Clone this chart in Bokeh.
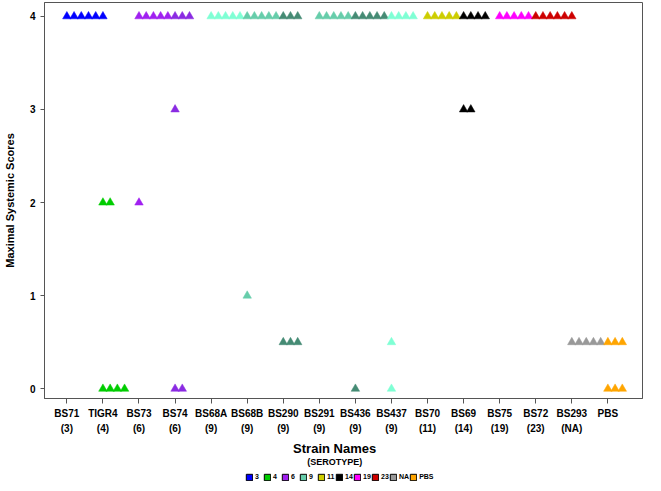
from bokeh.plotting import figure
from bokeh.layouts import column
from bokeh.models import FixedTicker, Range1d, Legend, LegendItem, ColumnDataSource, Label
from bokeh.embed import file_html
from bokeh.resources import INLINE

# ---- data ----
strains = ["BS71", "TIGR4", "BS73", "BS74", "BS68A", "BS68B", "BS290", "BS291",
           "BS436", "BS437", "BS70", "BS69", "BS75", "BS72", "BS293", "PBS"]
strain_serotypes = ["(3)", "(4)", "(6)", "(6)", "(9)", "(9)", "(9)", "(9)",
                    "(9)", "(9)", "(11)", "(14)", "(19)", "(23)", "(NA)", ""]
strain_colors = ["#0000FF", "#00CD00", "#A020F0", "#8A2BE2", "#7FFFD4", "#66CDAA",
                 "#458B74", "#66CDAA", "#458B74", "#7FFFD4", "#CDCD00", "#000000",
                 "#FF00FF", "#CD0000", "#999999", "#FFA500"]
scores = [
    [4, 4, 4, 4, 4, 4],
    [2, 2, 0, 0, 0, 0],
    [4, 4, 4, 4, 4, 2],
    [4, 4, 4, 3, 0, 0],
    [4, 4, 4, 4, 4],
    [4, 4, 4, 4, 4, 1],
    [4, 4, 4, 0.5, 0.5, 0.5],
    [4, 4, 4, 4, 4],
    [4, 4, 4, 4, 4, 0],
    [4, 4, 4, 4, 0.5, 0],
    [4, 4, 4, 4, 4],
    [4, 4, 4, 4, 3, 3],
    [4, 4, 4, 4, 4],
    [4, 4, 4, 4, 4, 4],
    [0.5, 0.5, 0.5, 0.5, 0.5],
    [0.5, 0.5, 0.5, 0, 0, 0],
]
serotypes = ["3", "4", "6", "9", "11", "14", "19", "23", "NA", "PBS"]
serotype_colors = ["#0000FF", "#00CD00", "#A020F0", "#66CDAA", "#CDCD00", "#000000",
                   "#FF00FF", "#CD0000", "#999999", "#FFA500"]
y_ticks = [0, 1, 2, 3, 4]
x_title = "Strain Names"
x_subtitle = "(SEROTYPE)"
y_title = "Maximal Systemic Scores"

# ---- point positions: mice with same score are placed side by side ----
dodge = 0.2
xs, ys, cs = [], [], []
for i, (vals, col) in enumerate(zip(scores, strain_colors)):
    counts = {}
    for v in vals:
        k = counts.get(v, 0)
        counts[v] = k + 1
        xs.append(i + k * dodge)
        ys.append(v)
        cs.append(col)
src = ColumnDataSource(dict(x=xs, y=ys, c=cs))

FONT = "Liberation Sans"
W = 645
BL, BR = 34, 3
FW = W - BL - BR  # frame width in pixels

p = figure(width=W, height=438, output_backend="svg", toolbar_location=None,
           x_range=Range1d(-0.62, 15.96), y_range=Range1d(-0.104, 4.149),
           min_border_left=BL, min_border_top=2, min_border_right=BR, min_border_bottom=40)
p.grid.visible = False
p.outline_line_color = "#555555"
p.background_fill_color = "white"

p.scatter("x", "y", source=src, marker="triangle", size=8.5,
          fill_color="c", line_color="c", line_width=0.5)

# axes
xa = p.xaxis[0]
xa.ticker = FixedTicker(ticks=list(range(len(strains))))
xa.major_label_overrides = {i: (s + "\n" + t if t else s)
                            for i, (s, t) in enumerate(zip(strains, strain_serotypes))}
xa.major_label_text_font = FONT
xa.major_label_text_font_style = "bold"
xa.major_label_text_font_size = "10px"
xa.major_label_text_color = "black"
xa.major_label_text_line_height = 1.45
xa.major_tick_out = 5
xa.major_tick_in = 0
xa.minor_tick_line_color = None
xa.axis_line_color = "#555555"
xa.major_tick_line_color = "#555555"
xa.major_label_standoff = 4

ya = p.yaxis[0]
ya.ticker = FixedTicker(ticks=y_ticks)
ya.major_label_text_font = FONT
ya.major_label_text_font_style = "bold"
ya.major_label_text_font_size = "10px"
ya.major_label_text_color = "black"
ya.major_tick_out = 4
ya.major_tick_in = 0
ya.minor_tick_line_color = None
ya.axis_line_color = "#555555"
ya.major_tick_line_color = "#555555"
ya.major_label_standoff = 5
ya.axis_label = y_title
ya.axis_label_text_font = FONT
ya.axis_label_text_font_style = "bold"
ya.axis_label_text_font_size = "11px"
ya.axis_label_text_color = "black"
ya.axis_label_standoff = 11

# ---- lower strip: x title, subtitle, serotype legend (pixel coordinates,
#      frame aligned with the main plot's frame) ----
H2 = 43
p2 = figure(width=W, height=H2, output_backend="svg", toolbar_location=None,
            x_range=Range1d(0, FW), y_range=Range1d(H2, 0),
            x_axis_location=None, y_axis_location=None, min_border=0,
            min_border_left=BL, min_border_right=BR)
p2.grid.visible = False
p2.outline_line_color = None

p2.add_layout(Label(x=295, y=9.5, text=x_title, text_color="black",
                    text_font=FONT, text_font_style="bold", text_font_size="13px",
                    text_align="center", text_baseline="middle"))
p2.add_layout(Label(x=295, y=23, text=x_subtitle, text_color="black",
                    text_font=FONT, text_font_style="bold", text_font_size="9px",
                    text_align="center", text_baseline="middle"))

nan = float("nan")
items = []
for s, c in zip(serotypes, serotype_colors):
    r = p2.quad(left=[nan], right=[nan], top=[nan], bottom=[nan],
                fill_color=c, line_color="black", line_width=1)
    items.append(LegendItem(label=s, renderers=[r]))
leg = Legend(items=items, orientation="horizontal", location=(201, 0),
             label_text_font=FONT, label_text_font_style="bold", label_text_font_size="7px",
             label_text_color="black",
             glyph_width=8, glyph_height=8, label_standoff=2, spacing=0, padding=0, margin=0,
             label_width=8, label_height=9,
             border_line_color=None, background_fill_alpha=0)
p2.add_layout(leg)

open("out.html", "w").write(file_html(column(p, p2, spacing=0), INLINE))
